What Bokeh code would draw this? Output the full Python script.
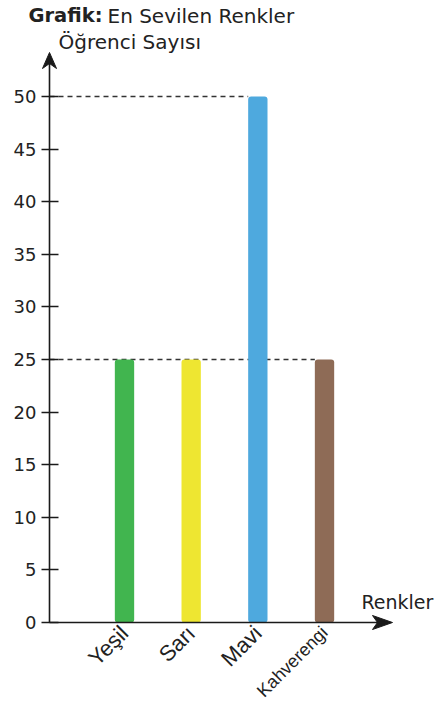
from math import pi
from bokeh.plotting import figure
from bokeh.models import Range1d, FixedTicker, Label, ColumnDataSource, LinearAxis
from bokeh.embed import file_html
from bokeh.resources import INLINE

# ---- data ----
categories = ["Yeşil", "Sarı", "Mavi", "Kahverengi"]
students = [25, 25, 50, 25]
bar_colors = ["#41b54f", "#eee631", "#4ea9de", "#8e6b56"]
y_ticks = [0, 5, 10, 15, 20, 25, 30, 35, 40, 45, 50]
title_bold = "Grafik:"
title_rest = "En Sevilen Renkler"
y_title = "Öğrenci Sayısı"
x_title = "Renkler"

# ---- layout ----
FONT = "DejaVu Sans"
CAT_FONT = "Liberation Sans"
INK = "#1a1a1a"
TXT = "#222222"
W, H = 444, 708
AXIS_X_PX, AXIS_Y_PX = 49, 622   # pixel position of the two axes
PX_X, PX_Y = 66.67, 10.52        # pixels per data unit
X_CENTER1 = 124                  # pixel of first category
BAR_W = 0.29


def dx(px):
    return 1 + (px - X_CENTER1) / PX_X


def dy(py):
    return (AXIS_Y_PX - py) / PX_Y


X_AXIS_POS = dx(AXIS_X_PX)
xs = [i + 1 for i in range(len(categories))]
src = ColumnDataSource(dict(x=xs, top=students, color=bar_colors, name=categories))

p = figure(width=W, height=H, x_range=Range1d(dx(0), dx(W)), y_range=Range1d(dy(H), dy(0)),
           min_border=0, toolbar_location=None, output_backend="svg", title=None,
           x_axis_type=None, y_axis_type=None)
p.outline_line_color = None
p.background_fill_color = "white"
p.border_fill_color = "white"

# dashed reference lines from the axis to the farthest bar of each value
for v in sorted(set(students)):
    far = max(x for x, s in zip(xs, students) if s == v)
    p.segment(x0=[X_AXIS_POS], y0=[v], x1=[far - BAR_W / 2], y1=[v],
              line_color="#333333", line_width=1.4, line_dash="5 4")

p.vbar(x="x", top="top", bottom=0, width=BAR_W, fill_color="color", line_color=None,
       border_radius=3, source=src)

Y_TIP_PX = 52
X_TIP_PX = 392

# y axis
ya = LinearAxis(fixed_location=X_AXIS_POS, bounds=(0, dy(Y_TIP_PX + 8)),
                ticker=FixedTicker(ticks=y_ticks))
ya.major_tick_in = 9
ya.major_tick_out = 8
ya.minor_tick_line_color = None
ya.axis_line_width = 1.6
ya.axis_line_color = INK
ya.major_tick_line_color = INK
ya.major_tick_line_width = 1.4
ya.major_label_standoff = 5
ya.major_label_text_font = FONT
ya.major_label_text_font_size = "18px"
ya.major_label_text_color = TXT
p.add_layout(ya, "left")


def cat_axis(idx, size, line_color):
    ax = LinearAxis(fixed_location=0, bounds=(X_AXIS_POS, dx(X_TIP_PX - 8)),
                    ticker=FixedTicker(ticks=[xs[i] for i in idx]))
    ax.major_label_overrides = {xs[i]: categories[i] for i in idx}
    ax.major_label_orientation = pi / 4
    ax.major_tick_line_color = None
    ax.minor_tick_line_color = None
    ax.axis_line_width = 1.6
    ax.axis_line_color = line_color
    ax.major_label_standoff = 1
    ax.major_label_text_font = CAT_FONT
    ax.major_label_text_font_size = size
    ax.major_label_text_color = TXT
    p.add_layout(ax, "below")


cat_axis([0, 1, 2], "22px", INK)
cat_axis([3], "18px", None)

# axis arrowheads (concave "vee" shapes), built in pixel offsets from the tips
def head(tip_x, tip_y, pts):
    return [dx(tip_x + a) for a, b in pts], [dy(tip_y + b) for a, b in pts]

up = [(0, 0), (-7, 16), (0, 11), (7, 16)]
right = [(0, 0), (-20, -7), (-15, 0), (-20, 7)]
hx1, hy1 = head(AXIS_X_PX, Y_TIP_PX, up)
hx2, hy2 = head(X_TIP_PX, AXIS_Y_PX, right)
p.patches(xs=[hx1, hx2], ys=[hy1, hy2], fill_color=INK, line_color=INK, line_width=1)

# texts
p.add_layout(Label(x=dx(28), y=dy(15), text=title_bold, text_font=FONT, text_font_size="19.5px",
                   text_font_style="bold", text_color=TXT, text_baseline="alphabetic"))
p.add_layout(Label(x=dx(107), y=dy(15), text=title_rest, text_font=FONT, text_font_size="20px",
                   text_color=TXT, text_baseline="alphabetic"))
p.add_layout(Label(x=dx(58), y=dy(41), text=y_title, text_font=FONT, text_font_size="20px",
                   text_color=TXT, text_baseline="alphabetic"))
p.add_layout(Label(x=dx(361), y=dy(601), text=x_title, text_font=FONT, text_font_size="19px",
                   text_color=TXT, text_baseline="alphabetic"))

open("out.html", "w").write(file_html(p, INLINE))
